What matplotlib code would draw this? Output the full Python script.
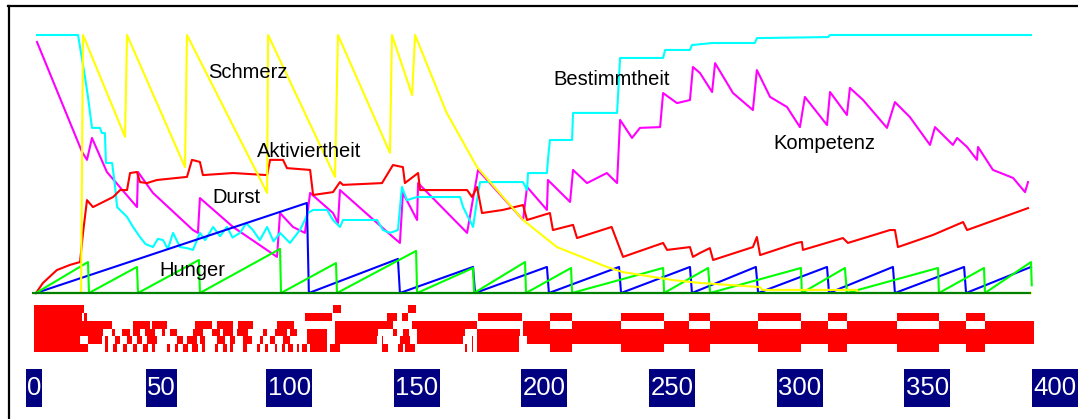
import matplotlib
matplotlib.use("Agg")
import matplotlib.pyplot as plt
from matplotlib.patches import Rectangle
from matplotlib.lines import Line2D

# ---------------- data (time steps 0..400, values 0..100) ----------------
schmerz_t = [0, 18.1, 18.9, 35.8, 36.6, 59.9, 60.7, 92.9, 93.3, 120.2, 121.4, 142.3, 143.1,
             151.2, 152.4, 165, 177.3, 195.8, 209.4, 229.5, 235.9, 256.1, 266.9, 291, 292, 330, 330.5, 400]
schmerz_v = [0, 0, 100, 60.5, 100, 48.8, 100, 38.8, 100, 45, 100, 54.3, 100,
             76.7, 100, 70, 48.8, 28.3, 17.8, 10.1, 8.1, 5.0, 3.9, 2.3, 1.2, 1.2, 0, 0]

bestimmtheit_t = [0.4, 16.9, 17.7, 19.7, 20.9, 22.5, 25.7, 26.5, 27.7, 28.1, 30.6, 31.8, 32.6, 36.6,
                  39.0, 41.8, 44.0, 47.0, 49.0, 51.1, 53.0, 55.1, 57.9, 60.7, 63.1, 65.9, 68.0, 71.2,
                  74.0, 76.8, 79.0, 82.0, 84.5, 87.2, 90.0, 92.9, 95.5, 98.1, 102.1, 106.1, 108.1,
                  109.3, 111.4, 117, 119.4, 122.2, 123.4, 137.1, 139.5, 142.3, 145.5, 147.1, 149.1,
                  153.2, 170.5, 171.7, 175.7, 177.3, 178.5, 195.8, 197.4, 197.8, 205.4, 205.8, 206.6,
                  215.5, 215.9, 233.6, 234.8, 252.1, 252.9, 262.9, 263.7, 271.8, 289.0, 289.8,
                  318.4, 319.2, 400]
bestimmtheit_v = [100, 100, 95.3, 83.7, 76.0, 64.0, 64.0, 62.0, 62.0, 50.4, 50.4, 41.1, 33.3, 29.5,
                  25.6, 21.7, 19.0, 17.8, 21.0, 20.5, 17.0, 23.3, 17.8, 17.4, 16.7, 23.3, 20.5, 25.6,
                  22.0, 25.6, 21.5, 23.3, 27.0, 24.4, 20.5, 25.6, 20.0, 23.3, 19.4, 24.4, 28.3,
                  31.0, 32.2, 32.2, 28.3, 25.6, 28.3, 28.3, 24.4, 23.3, 24.4, 41.1, 36.0,
                  37.2, 37.2, 33.3, 25.6, 36.0, 43.0, 43.0, 39.9, 46.5, 46.5, 51.6, 59.3,
                  59.3, 69.8, 69.8, 91.1, 91.1, 94.2, 94.2, 96.1, 96.9, 96.9, 98.8,
                  99.2, 100, 100]

kompetenz_t = [0.4, 18.5, 20.5, 22.5, 28.5, 40.6, 41.0, 47.0, 63.1, 65.1, 65.9, 79.2, 96.9, 98.1,
               103.3, 108.1, 110.2, 119.4, 121.4, 122.2, 143.5, 146.3, 147.5, 153.2, 153.6, 173.3,
               177.7, 195.8, 197.4, 205.4, 205.8, 214.7, 215.9, 221.5, 229.5, 233.6, 234.8, 239.6,
               242.8, 250.9, 252.1, 257.7, 262.9, 264.1, 266.9, 271.8, 273.0, 280.2, 288.2, 289.8,
               295.1, 301.9, 307.1, 309.1, 318.0, 319.2, 326.0, 327.2, 332.5, 342.1, 345.3, 351.3,
               359.4, 361.4, 368.6, 370.3, 374.3, 378.3, 378.7, 384.7, 392.8, 397.6, 398.8]
kompetenz_v = [97.3, 54.7, 51.6, 60.1, 46.9, 33.3, 46.9, 38.8, 24.4, 23.3, 36.8, 25.6, 14.0, 31.0,
               25.6, 23.3, 38.8, 31.0, 27.1, 39.9, 21.7, 19.4, 38.8, 28.3, 42.6, 23.3,
               47.7, 28.3, 41.1, 32.2, 43.8, 35.3, 47.7, 42.6, 46.5, 42.6, 67.1, 60.1,
               64.0, 64.3, 77.5, 73.6, 74.8, 87.6, 85.3, 77.9, 89.1, 77.5, 70.9, 86.4,
               76.0, 72.1, 64.3, 76.0, 65.1, 77.9, 69.0, 79.5, 74.8, 64.0, 74.0, 68.2,
               57.4, 64.3, 57.4, 60.1, 56.6, 51.6, 56.6, 47.7, 44.6, 39.1, 43.0]

aktiviertheit_t = [0, 2.8, 8.4, 13.7, 17.7, 18.9, 20.5, 22.9, 28.5, 31.0, 33.8, 36.6, 37.8, 40.6,
                   41.8, 44.6, 48.6, 60.7, 62.7, 65.9, 67.1, 79.2, 92.9, 94.1, 99.3, 100.9, 110.2,
                   111.4, 119.4, 122.2, 123.4, 139.1, 143.5, 147.5, 148.3, 153.6, 154.4, 173.3,
                   175.3, 177.3, 179.3, 187.7, 195.8, 197.4, 206.6, 207.8, 215.9, 217.5, 231.4,
                   236.0, 252.1, 253.7, 262.9, 264.1, 266.9, 270.9, 272.2, 288.2, 289.8, 291.1,
                   305.9, 307.9, 308.3, 324.4, 326.4, 343.3, 345.3, 346.5, 360.6, 372.7, 374.3, 398.8]
aktiviertheit_v = [0, 3.9, 8.9, 10.9, 12.0, 23.3, 36.0, 33.3, 36.0, 37.2, 39.9, 39.9, 46.5, 46.9,
                   43.0, 42.6, 43.8, 45.0, 51.6, 50.8, 45.7, 46.5, 45.7, 51.6, 51.6, 48.4, 47.7,
                   38.0, 39.1, 43.0, 41.9, 42.6, 49.6, 48.8, 42.6, 46.5, 39.9, 39.9,
                   37.2, 41.1, 31.0, 32.2, 34.1, 28.3, 31.0, 24.4, 26.4, 21.3, 25.6,
                   14.0, 19.4, 16.7, 17.8, 14.0, 15.5, 17.4, 12.8, 17.8, 21.7, 14.7,
                   19.4, 19.8, 16.7, 21.3, 19.4, 24.4, 24.4, 17.8, 22.5, 27.5, 24.4, 32.9]

durst_t = [0, 108.9, 109.7, 145.5, 146.3, 175.7, 176.5, 205.4, 206.2, 234.4, 235.2, 262.9, 263.7,
           289.4, 290.3, 318.0, 318.8, 344.5, 345.3, 373.1, 373.9, 400]
durst_v = [0, 34.9, 0, 13.2, 0, 10.1, 0, 10.1, 0, 10.1, 0, 10.1, 0,
           10.1, 0, 10.1, 0, 10.1, 0, 10.1, 0, 10.1]

hunger_t = [0, 20.9, 21.3, 40.6, 41.0, 65.5, 65.9, 98.1, 98.5, 120.6, 121.0, 152.8, 153.2, 175.7,
            176.1, 196.6, 197.0, 215.1, 215.5, 252.1, 252.5, 270.2, 271.0, 307.5, 307.9, 325.2,
            326.0, 362.6, 363.0, 381.1, 381.5, 400, 400.3]
hunger_v = [0, 12.0, 0, 10.1, 0, 12.8, 0, 17.1, 0, 11.6, 0, 16.3, 0, 9.7,
            0, 12.0, 0, 9.7, 0, 9.7, 0, 9.7, 0, 9.7, 0, 9.7,
            0, 9.7, 0, 9.7, 0, 12.0, 3.0]

# state raster below the chart: six rows of active intervals (start, end) in time steps
row0 = [(-1, 19.3), (119.5, 122.5), (149.7, 152.8)]
row1 = [(-1, 18.4), (19.3, 20.4), (108.1, 118.9), (141, 145), (147, 149.7), (177.8, 195.2),
        (206.6, 215.5), (235.2, 252.5), (262.5, 271.0), (290.3, 307.5), (318.4, 326.0),
        (346.1, 363.0), (373.9, 381.5)]
row2 = [(-1, 30.4), (39.1, 45.8), (46.5, 52.5), (63.9, 70.6), (72.6, 79.3), (81.3, 87.4),
        (96.8, 103.7), (120.2, 143.5), (151, 177.2), (195.9, 206.6), (215.5, 235.2),
        (252.5, 262.5), (271.0, 290.3), (307.5, 318.4), (326.0, 346.1), (363.0, 373.9),
        (381.5, 401.2)]
row3 = [(-1, 27.1), (30.4, 31.8), (34.4, 37.8), (39.1, 41.8), (43.8, 47.8), (50.5, 51.9),
        (53.9, 56.6), (63.2, 67.3), (70.6, 74.0), (75.3, 79.3), (80.7, 85.4), (91.4, 92.7),
        (96.1, 100.8), (102.1, 104.8), (108.8, 117.1), (120.2, 137.6), (143.7, 145.3),
        (147.7, 150.1), (153, 172.5), (177.2, 194.6), (195.9, 401.2)]
row4 = [(-1, 17.7), (21.0, 26.4), (27.7, 29.1), (31.8, 33.8), (36.4, 38.5), (40.5, 42.5),
        (44.5, 48.5), (56.6, 59.2), (60.6, 64.6), (65.9, 67.9), (72.6, 76.0), (78.0, 80.0),
        (83.3, 86.7), (90.0, 91.4), (94.1, 96.1), (99.4, 102.1), (108.8, 117.1), (120.2, 137.2),
        (139, 139.6), (146.3, 150.3), (153, 171.8), (175.1, 175.8), (177.2, 194), (197.2, 401.2)]
row5 = [(-1, 21.0), (27.7, 29.1), (31.1, 32.4), (35.1, 36.4), (39.1, 40.5), (43.1, 45.2),
        (46.5, 47.8), (52.5, 53.9), (55.9, 57.2), (59.2, 61.2), (62.6, 65.3), (66.6, 67.9),
        (72.0, 73.3), (75.3, 76.7), (78.0, 79.3), (83.3, 84.7), (88.7, 90.0), (92.1, 93.4),
        (96.1, 96.8), (98.8, 100.1), (101.4, 103.5), (104.8, 105.9), (106.8, 108.8),
        (110.2, 117.1), (118.2, 122.2), (139, 141.6), (145.7, 147.7), (148.4, 152.4),
        (172.5, 173.1), (175.1, 175.8), (177.2, 194), (206.6, 215.5), (235.2, 252.5),
        (262.5, 271.0), (290.3, 307.5), (318.4, 326.0), (346.1, 363.0), (373.9, 381.5)]
raster_rows = [row0, row1, row2, row3, row4, row5]

tick_values = [0, 50, 100, 150, 200, 250, 300, 350, 400]
tick_labels = ["0", "50", "100", "150", "200", "250", "300", "350", "400"]

series_labels = ["Schmerz", "Aktiviertheit", "Durst", "Hunger", "Bestimmtheit", "Kompetenz"]
label_t = [85.2, 109.7, 80.4, 62.7, 231.6, 316.8]
label_v = [85.3, 54.7, 37.2, 8.9, 82.6, 57.8]

# ---------------- layout helpers (pixels) ----------------
W, H = 1078, 419
DPI = 100


def rect(x0, y0, x1, y1):
    return [x0 / W, 1 - y1 / H, (x1 - x0) / W, (y1 - y0) / H]


PX_PER_T = 2.4875
T0_PX = 36
PX_PER_V = 2.58
V0_PX = 293


def t_of(px):
    return (px - T0_PX) / PX_PER_T


def v_of(py):
    return (V0_PX - py) / PX_PER_V


fig = plt.figure(figsize=(W / DPI, H / DPI), dpi=DPI)
fig.patch.set_facecolor("white")

# frame lines
frame = fig.add_axes([0, 0, 1, 1])
frame.set_xlim(0, W)
frame.set_ylim(H, 0)
frame.axis("off")
frame.add_line(Line2D([8, W], [6.5, 6.5], color="black", lw=1.6))
frame.add_line(Line2D([8.5, 8.5], [6, H], color="black", lw=1.6))

# main chart
ax = fig.add_axes(rect(20, 20, 1060, 298))
ax.set_xlim(t_of(20), t_of(1060))
ax.set_ylim(v_of(298), v_of(20))
ax.axis("off")

LW = 1.5
ax.plot(kompetenz_t, kompetenz_v, color="#FF00FF", lw=LW, zorder=2)
ax.plot(bestimmtheit_t, bestimmtheit_v, color="#00FFFF", lw=LW, zorder=3)
ax.plot(aktiviertheit_t, aktiviertheit_v, color="#FF0000", lw=LW, zorder=4)
ax.plot(durst_t, durst_v, color="#0000FF", lw=LW, zorder=5)
ax.plot(hunger_t, hunger_v, color="#00FF00", lw=LW, zorder=6)
ax.plot(schmerz_t, schmerz_v, color="#FFFF00", lw=LW, zorder=7)
ax.hlines(0, -1.5, tick_values[-1], color="#008000", lw=1.6, zorder=8)

for s, tx, vy in zip(series_labels, label_t, label_v):
    ax.text(tx, vy, s, ha="center", va="center", fontsize=14.5,
            family=["Liberation Sans", "DejaVu Sans"], color="black", zorder=10)

# state raster
rax = fig.add_axes(rect(20, 305, 1060, 352))
rax.set_xlim(t_of(20), t_of(1060))
rax.set_ylim(len(raster_rows), 0)
rax.axis("off")
for i, row in enumerate(raster_rows):
    rax.broken_barh([(a, b - a) for a, b in row], (i, 1), facecolors="#FF0000",
                    edgecolor="none")

# tick label boxes
LBL_PX_PER_UNIT = 2.552
LBL_0_PX = 34
lax = fig.add_axes(rect(0, 369, W, 407))
lax.set_xlim(-LBL_0_PX / LBL_PX_PER_UNIT, (W - LBL_0_PX) / LBL_PX_PER_UNIT)
lax.set_ylim(0, 1)
lax.axis("off")
for val, lab in zip(tick_values, tick_labels):
    wdt = (15 * len(lab) + 1) / LBL_PX_PER_UNIT
    lax.add_patch(Rectangle((val - wdt / 2, 0), wdt, 1, facecolor="#000080", edgecolor="none"))
    lax.text(val, 0.5, lab, ha="center", va="center", color="white", fontsize=18.5,
             family=["Liberation Sans", "DejaVu Sans"])

fig.savefig("out.png", dpi=DPI, facecolor="white")
